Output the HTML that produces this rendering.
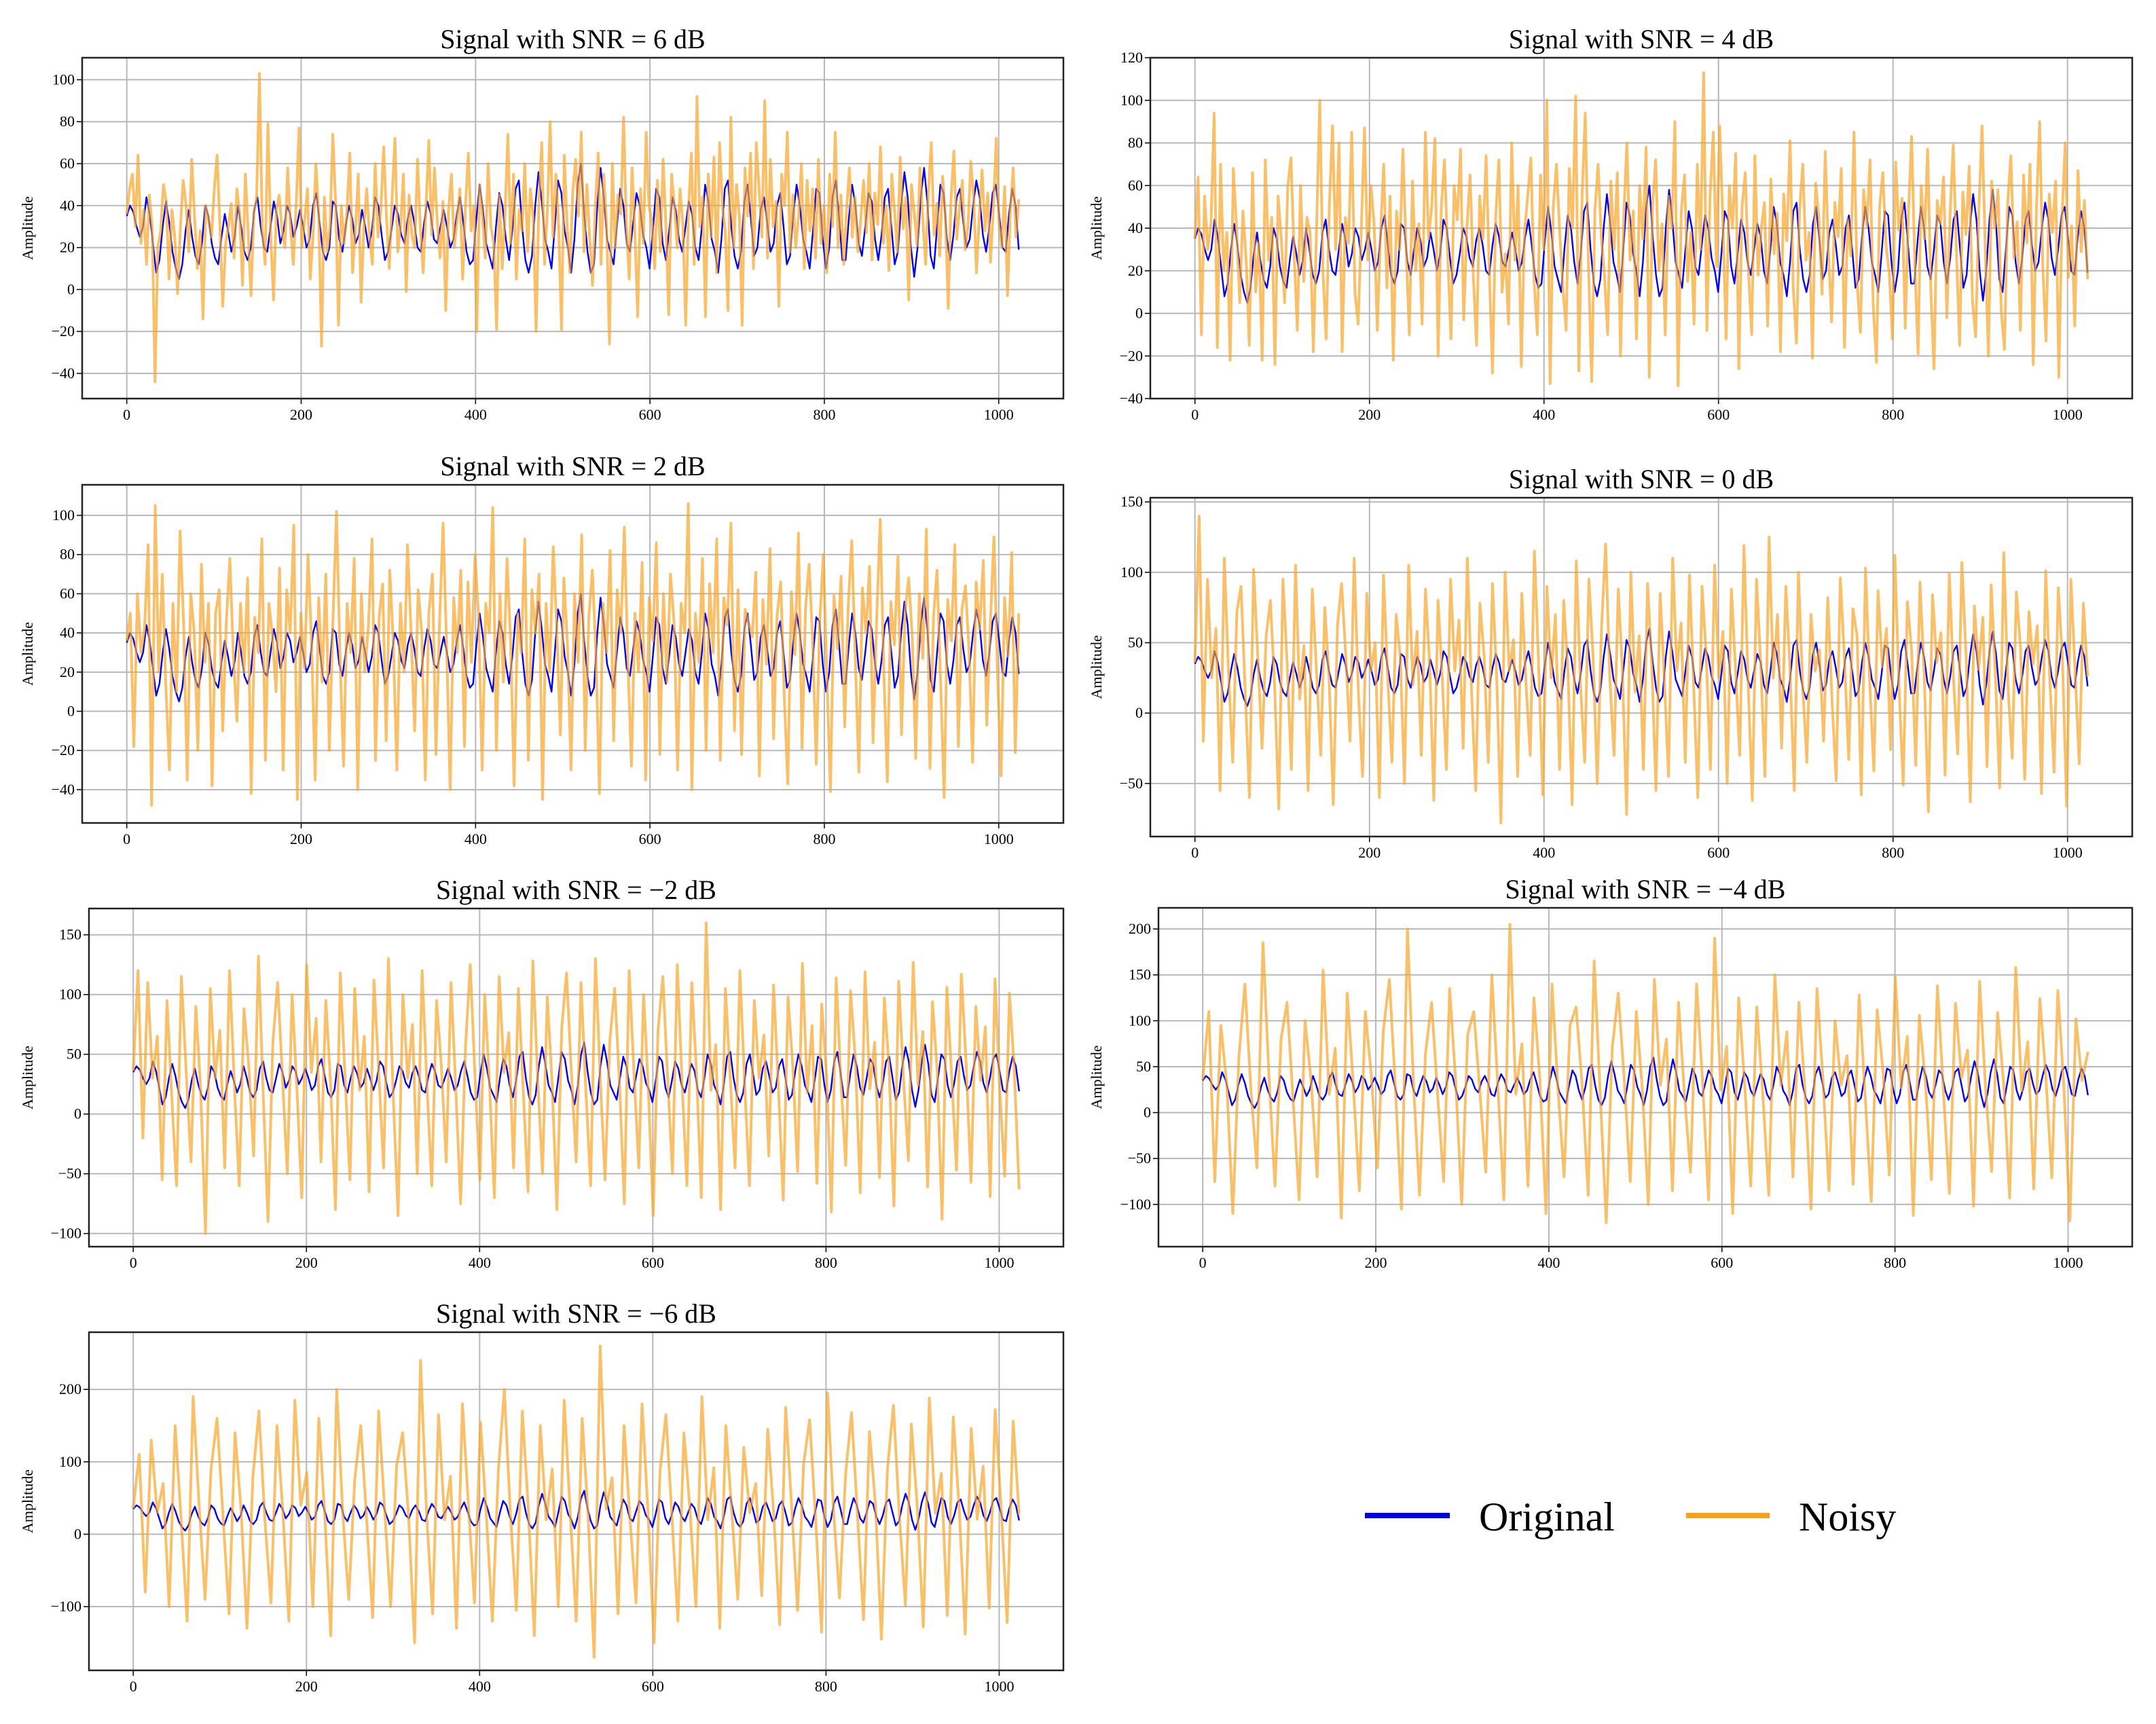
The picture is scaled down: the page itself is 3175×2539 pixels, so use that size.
<!DOCTYPE html>
<html><head><meta charset="utf-8">
<style>
html,body{margin:0;padding:0;background:#fff;}
svg{display:block;}
text{font-family:"Liberation Serif","DejaVu Serif",serif;fill:#000;}
</style></head>
<body>
<svg id="fig" width="3175" height="2539" viewBox="0 0 3175 2539" xmlns="http://www.w3.org/2000/svg">
<rect x="0" y="0" width="3175" height="2539" fill="#fff"/>
<g>
<line x1="2010" y1="2232" x2="2135" y2="2232" stroke="#0000dd" stroke-width="8"/>
<text x="2178" y="2254" font-size="60">Original</text>
<line x1="2483" y1="2232" x2="2606" y2="2232" stroke="#f5a31a" stroke-width="8"/>
<text x="2649" y="2254" font-size="60">Noisy</text>
</g>
</svg>
<script>
// ---- data ----
const xTicks = [0, 200, 400, 600, 800, 1000];
const xMax = 1023;
const titles = ["Signal with SNR = 6 dB","Signal with SNR = 4 dB","Signal with SNR = 2 dB","Signal with SNR = 0 dB","Signal with SNR = \u22122 dB","Signal with SNR = \u22124 dB","Signal with SNR = \u22126 dB"];
const yTicks6 = [-40,-20,0,20,40,60,80,100];
const yTicks4 = [-40,-20,0,20,40,60,80,100,120];
const yTicks2 = [-40,-20,0,20,40,60,80,100];
const yTicks0 = [-50,0,50,100,150];
const yTicksM2 = [-100,-50,0,50,100,150];
const yTicksM4 = [-100,-50,0,50,100,150,200];
const yTicksM6 = [-100,0,100,200];
const original = [35,40,37,30,25,30,44,36,22,8,14,30,42,32,18,10,5,12,28,38,25,16,12,22,40,35,22,15,12,25,36,28,18,25,40,30,18,14,20,38,44,30,20,18,30,42,35,22,28,40,36,25,30,38,30,20,24,40,46,32,18,14,20,42,40,24,18,30,40,34,22,26,38,30,20,28,44,40,26,14,18,28,40,36,26,22,34,40,32,20,18,32,42,36,24,22,30,38,30,20,24,36,44,32,18,12,14,34,50,38,22,16,10,30,46,40,24,14,28,48,52,30,14,8,16,40,56,42,24,18,10,30,52,46,28,20,8,24,50,60,36,18,8,12,40,58,44,24,18,12,30,48,40,22,18,32,46,40,26,20,10,28,48,44,22,14,28,44,38,24,18,30,42,36,20,14,30,50,42,24,18,8,24,48,52,30,16,10,18,42,50,34,16,20,38,44,32,18,22,40,46,30,12,16,36,50,40,24,18,10,28,48,46,24,10,20,44,52,34,14,14,34,50,40,22,16,30,46,42,24,14,26,44,48,30,12,18,40,56,44,20,6,20,44,58,42,16,10,30,50,46,24,14,26,44,48,32,20,24,40,52,44,26,18,30,46,50,36,20,18,36,48,40,19];
const noisy6 = [36,48,55,30,64,22,38,12,45,30,-44,20,28,50,42,5,38,25,-2,30,52,40,18,62,35,10,28,-14,40,33,25,48,64,30,-8,22,30,41,15,48,36,2,55,28,-3,36,44,103,30,12,79,25,-5,38,45,28,20,58,30,12,40,77,20,33,48,5,26,60,35,-27,44,18,30,74,41,-17,40,22,37,65,8,29,55,-6,30,48,25,12,60,25,38,68,35,10,44,72,18,30,55,-1,45,26,20,62,30,8,39,71,26,58,32,15,42,-10,38,55,20,33,48,5,40,65,28,40,-20,50,35,15,60,30,22,-19,45,10,36,74,22,55,5,38,28,60,18,48,34,-20,42,70,12,38,80,25,55,30,-19,64,30,8,47,62,35,75,18,50,24,2,40,65,12,55,30,-26,60,20,45,36,82,30,5,58,27,-13,48,22,75,40,33,10,52,18,62,30,-12,55,40,20,48,31,-17,38,65,12,92,30,44,-13,55,25,63,8,70,40,28,-10,82,20,50,35,-17,58,35,65,10,70,48,25,90,15,62,30,42,-8,55,40,75,18,45,20,35,60,10,52,28,48,15,62,22,40,8,55,30,75,20,45,12,38,58,25,44,18,33,52,27,60,14,46,31,68,22,40,9,55,37,18,63,29,44,-5,50,36,21,58,33,12,47,70,26,41,16,54,35,-9,43,66,24,38,52,19,30,61,44,8,35,57,28,46,13,39,72,31,20,49,-3,37,58,25,43];
const noisy4 = [35,64,-10,55,30,42,94,-16,70,20,38,-22,68,40,5,48,25,-15,66,10,33,-22,72,25,45,-24,55,35,5,60,73,28,-8,60,15,45,38,-18,40,100,20,-12,50,88,30,80,-18,45,33,85,10,-5,40,87,25,60,42,-8,38,70,12,55,-22,48,30,77,30,-10,62,20,42,-5,85,35,50,82,-20,50,72,28,-12,60,44,77,-3,40,65,18,-15,55,35,74,20,-28,45,72,10,28,-5,80,25,60,-25,38,55,73,15,-10,65,30,100,-33,50,70,38,12,-8,68,40,102,-27,55,94,22,-32,48,70,36,18,-10,62,30,66,-20,45,80,25,48,-12,60,35,78,-30,50,72,20,42,-10,55,40,90,-34,48,65,15,38,-5,70,30,113,-8,55,85,22,88,44,-12,60,40,75,-26,50,66,20,-10,74,18,40,52,-6,63,28,47,-18,56,34,81,12,-14,49,70,25,38,-21,61,45,9,76,30,-4,52,36,68,-16,44,27,85,14,-9,58,41,72,3,-23,50,66,32,19,-12,71,39,54,-7,47,83,24,-19,60,35,77,11,-26,53,42,64,-2,46,79,29,-15,57,37,69,6,-11,48,88,31,-20,62,40,58,1,-17,51,74,26,43,-8,65,33,70,-24,49,90,22,-13,56,38,62,-30,45,80,17,41,-6,67,29,53,16];
const noisy2 = [36,50,-18,60,30,42,85,-48,105,20,70,12,-30,55,10,92,45,-35,60,40,-20,75,25,55,-38,50,62,-10,45,78,28,-5,55,20,68,-42,48,30,88,-25,55,38,10,73,-30,62,40,95,-45,50,22,80,35,-35,58,15,70,-20,45,102,28,-28,55,30,78,-40,60,20,44,88,-25,48,65,-15,72,35,-30,55,20,85,40,-10,62,40,-35,50,70,-22,45,96,33,-40,58,30,72,-18,66,25,80,48,-30,55,40,104,-20,60,15,78,36,-38,50,30,88,-25,62,40,70,-45,55,20,84,42,-12,68,35,-30,60,25,90,-20,48,72,30,-42,55,30,82,-15,62,40,94,26,-28,50,20,76,-35,58,36,86,-22,60,15,70,45,-30,55,40,106,-40,50,25,78,-20,65,30,88,-25,58,44,96,-10,62,-22,52,45,38,71,-33,57,24,83,-14,49,66,8,-37,61,29,91,-19,53,75,35,-27,46,80,18,-41,59,32,69,-8,54,87,26,-31,63,40,74,-16,47,98,22,-36,56,34,79,-12,51,68,39,-24,60,27,93,-29,48,72,15,-44,57,36,85,-18,52,64,31,-26,66,42,77,-7,45,89,20,-33,58,28,81,-21,50];
const noisy0 = [36,140,-20,95,25,60,-55,110,30,-35,72,90,15,-60,102,40,-25,55,80,20,-68,95,35,-40,105,10,48,-55,88,30,-30,75,25,-65,62,92,40,-20,110,15,-45,85,30,50,-60,98,25,-35,70,40,-50,105,20,58,-30,88,35,-62,80,25,-40,95,30,66,-25,110,15,-55,78,40,-35,92,25,-78,100,30,52,-45,85,20,-30,115,35,-58,90,25,70,-40,80,30,-65,108,20,-35,95,40,-50,60,120,25,-30,88,30,-72,100,15,55,-40,92,35,-55,85,25,-45,110,30,64,-35,98,20,-60,90,40,-40,105,25,58,-50,88,30,-30,119,20,-62,95,35,-45,125,25,70,-25,90,30,-55,100,20,-35,70,30,45,-20,82,10,-48,96,38,-33,74,55,-58,103,22,-41,87,33,60,-26,112,18,-51,79,44,-37,93,28,-70,84,36,57,-44,99,24,-29,107,41,-63,76,31,68,-38,91,27,-53,114,19,-32,86,46,-47,72,35,62,-57,101,23,-42,89,39,-66,95,30,-36,78,26];
const noisyM2 = [36,120,-20,110,30,65,-55,95,15,-60,115,35,-40,90,20,-100,105,30,70,-45,120,25,-60,88,40,-35,132,15,-90,60,110,30,-50,100,20,-70,125,35,80,-40,95,25,-80,118,30,-55,105,20,65,-65,112,35,-45,130,15,-85,100,30,75,-50,120,25,-60,95,40,-40,110,20,-75,55,125,30,-55,100,25,-70,115,35,68,-45,105,20,-65,128,30,-50,98,25,-80,72,118,35,-40,110,20,-60,130,30,-55,62,105,25,-75,120,35,-45,100,20,-85,70,115,30,-50,125,25,-60,110,35,-70,160,20,58,-80,105,30,-45,120,25,-60,95,30,66,-35,108,22,-72,98,40,-48,126,18,74,-58,92,33,-82,114,27,-43,103,45,-66,119,21,60,-53,97,38,-77,111,29,-39,127,24,69,-61,94,36,-88,106,31,-47,117,42,-57,90,28,73,-69,113,19,-52,101,37,-63];
const noisyM4 = [36,110,-75,95,30,-110,60,140,25,-60,185,40,-80,80,120,15,-95,100,35,-70,155,20,70,-115,130,30,-85,110,40,-60,90,145,25,-105,200,30,-90,65,120,20,-75,135,35,-100,85,110,25,-65,150,30,-95,205,20,75,-80,125,35,-110,140,25,-70,95,115,30,-90,165,20,-120,70,130,35,-75,110,25,-100,145,30,80,-85,120,20,-65,140,35,-95,190,25,72,-110,125,30,-80,115,20,-90,150,30,88,-70,120,25,-105,135,35,-85,100,30,62,-78,128,18,-97,112,42,-68,148,27,83,-112,106,33,-73,138,22,-88,119,38,68,-102,143,26,-64,109,31,-93,158,24,77,-83,124,40,-71,133,28,-118,102,35,66];
const noisyM6 = [36,110,-80,130,30,70,-100,150,20,-120,190,40,-90,90,160,25,-110,140,35,-130,80,170,20,-95,150,30,-120,185,40,85,-100,160,25,-140,200,30,-90,75,150,20,-115,170,35,-100,95,140,25,-150,240,30,-110,165,20,80,-130,180,40,-95,155,25,-120,88,200,30,-105,170,35,-140,150,20,90,-100,185,30,-120,160,25,-170,260,35,78,-110,150,20,-95,180,30,-150,86,165,25,-120,140,35,-100,190,20,92,-130,150,30,-90,120,30,70,-85,145,28,-125,175,38,-105,98,158,22,-135,195,33,-88,82,168,26,-118,142,41,-145,90,178,24,-98,152,36,-128,188,29,84,-112,162,34,-138,146,21,94,-102,172,37,-122,156,27];

// ---- layout (pixel positions) ----
const layout = [
 {L:121,T:85,R:1566,B:587,ymin:-52,ymax:110.5,ticks:yTicks6,noisy:noisy6,lab:48},
 {L:1694,T:85,R:3140,B:587,ymin:-40,ymax:120,ticks:yTicks4,noisy:noisy4,lab:1622},
 {L:121,T:714,R:1566,B:1212,ymin:-57,ymax:115.6,ticks:yTicks2,noisy:noisy2,lab:48},
 {L:1694,T:733,R:3140,B:1232,ymin:-87.7,ymax:153,ticks:yTicks0,noisy:noisy0,lab:1622},
 {L:131,T:1338,R:1566,B:1836,ymin:-111,ymax:172,ticks:yTicksM2,noisy:noisyM2,lab:48},
 {L:1706,T:1337,R:3140,B:1836,ymin:-146,ymax:223,ticks:yTicksM4,noisy:noisyM4,lab:1622},
 {L:131,T:1962,R:1566,B:2460,ymin:-188,ymax:279,ticks:yTicksM6,noisy:noisyM6,lab:48}
];
const NS = "http://www.w3.org/2000/svg";
const fig = document.getElementById('fig');
function mk(tag, attrs, parent){ const e=document.createElementNS(NS,tag); for(const k in attrs) e.setAttribute(k,attrs[k]); parent.appendChild(e); return e; }
const xmin=-51.15, xmaxL=1074.15;

layout.forEach((p,pi)=>{
  const g = mk('g',{},fig);
  
  
  const xs = v => p.L + (v-xmin)/(xmaxL-xmin)*(p.R-p.L);
  const ys = v => p.B - (v-p.ymin)/(p.ymax-p.ymin)*(p.B-p.T);
  xTicks.forEach(t=>{
    const l=mk('line',{x1:xs(t),x2:xs(t),y1:p.T,y2:p.B,stroke:'#b8b8b8','stroke-width':2},g);
    
    
    const tk=mk('line',{x1:xs(t),x2:xs(t),y1:p.B,y2:p.B+8,stroke:'#000','stroke-width':1.5},g);
    
    
    const tx=mk('text',{x:xs(t),y:p.B+31,'font-size':22,'text-anchor':'middle'},g);
    tx.textContent=String(t);
    
    
  });
  p.ticks.forEach(t=>{
    const l=mk('line',{x1:p.L,x2:p.R,y1:ys(t),y2:ys(t),stroke:'#b8b8b8','stroke-width':2},g);
    
    
    const tk=mk('line',{x1:p.L-8,x2:p.L,y1:ys(t),y2:ys(t),stroke:'#000','stroke-width':1.5},g);
    
    
    const tx=mk('text',{x:p.L-11,y:ys(t)+7,'font-size':22,'text-anchor':'end'},g);
    tx.textContent=(t<0?'\u2212'+(-t):String(t));
    
    
  });
  const path = arr => arr.map((v,i)=>(i?'L':'M')+xs(i*xMax/(arr.length-1)).toFixed(1)+' '+ys(v).toFixed(1)).join('');
  const o=mk('path',{d:path(original),fill:'none',stroke:'#0000ee','stroke-width':2.4,'stroke-linejoin':'round'},g);
  
  
  const n=mk('path',{d:path(p.noisy),fill:'none',stroke:'#f7a52a','stroke-opacity':0.7,'stroke-width':4,'stroke-linejoin':'round'},g);
  
  
  const f=mk('rect',{x:p.L,y:p.T,width:p.R-p.L,height:p.B-p.T,fill:'none',stroke:'#222','stroke-width':2.5},g);
  
  
  const tt=mk('text',{x:(p.L+p.R)/2,y:p.T-14,'font-size':40,'text-anchor':'middle'},g);
  tt.textContent=titles[pi];
  
  
  const yl=mk('text',{x:0,y:0,'font-size':22,'text-anchor':'middle',transform:'translate('+p.lab+','+((p.T+p.B)/2)+') rotate(-90)'},g);
  yl.textContent='Amplitude';
  
  
});
</script>
</body></html>
